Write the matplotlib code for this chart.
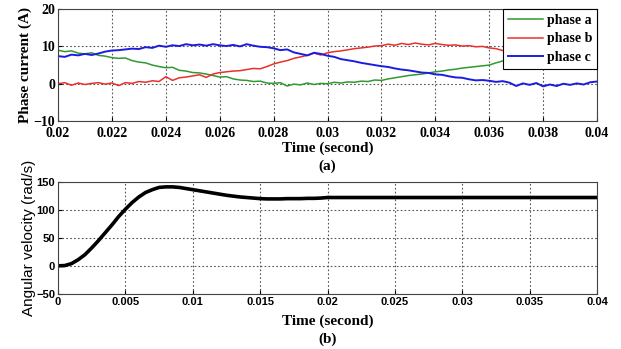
import numpy as np
import matplotlib
matplotlib.use("Agg")
import matplotlib.pyplot as plt

# ---- data ----
# phase currents, sampled every 0.25 ms from 0.02 s to 0.04 s
phase_a = [9.0, 8.6, 8.8, 8.2, 8.0, 8.3, 7.6, 7.4, 7.0, 6.8,
           6.9, 6.2, 5.8, 5.6, 5.0, 4.6, 4.3, 4.4, 3.6, 3.4,
           3.0, 2.9, 2.6, 2.2, 1.8, 1.9, 1.3, 1.0, 0.9, 0.6,
           0.7, 0.2, 0.1, 0.3, -0.6, -0.1, -0.3, 0.2, -0.2, 0.1,
           0.0, 0.4, 0.2, 0.5, 0.4, 0.7, 0.6, 1.0, 0.9, 1.3,
           1.6, 1.9, 2.2, 2.4, 2.6, 2.9, 3.2, 3.4, 3.7, 3.9,
           4.2, 4.4, 4.6, 4.8, 5.0, 5.6, 6.1, 6.7, 7.0, 7.3,
           7.6, 7.9, 8.1, 8.4, 8.6, 8.8, 9.0, 9.2, 9.4, 9.5, 9.6]
phase_b = [0.0, 0.3, -0.4, 0.2, -0.2, 0.1, 0.3, -0.1, 0.2, -0.5,
           0.3, 0.1, 0.6, 0.4, 0.8, 0.6, 1.9, 0.9, 1.6, 1.8,
           2.1, 2.4, 1.7, 2.6, 3.0, 3.2, 3.4, 3.5, 3.8, 4.1,
           4.0, 4.6, 5.3, 5.8, 6.2, 6.8, 7.2, 7.6, 8.2, 7.7,
           8.3, 8.6, 8.8, 9.1, 9.4, 9.6, 9.8, 10.1, 10.2, 10.6,
           10.3, 10.8, 10.5, 10.9, 10.6, 10.4, 10.8, 10.5, 10.3, 10.4,
           10.1, 10.2, 9.9, 10.0, 9.6, 9.4, 8.9, 8.8, 8.6, 8.5,
           8.4, 8.2, 8.1, 8.0, 7.8, 7.7, 7.5, 7.4, 7.2, 7.0, 6.8]
phase_c = [7.4, 7.2, 7.8, 7.6, 8.0, 7.7, 8.1, 8.6, 8.9, 9.0,
           9.2, 9.4, 9.3, 9.8, 9.6, 10.2, 9.9, 10.3, 10.1, 10.6,
           10.3, 10.5, 10.2, 10.6, 10.3, 10.1, 10.4, 10.0, 10.6, 10.2,
           9.9, 9.8, 9.5, 9.0, 9.2, 8.4, 8.0, 7.6, 8.3, 8.0,
           7.5, 7.2, 6.6, 6.3, 6.0, 5.6, 5.3, 5.0, 4.7, 4.5,
           4.1, 3.8, 3.6, 3.3, 3.0, 2.9, 2.5, 2.4, 2.0, 1.7,
           1.6, 1.2, 0.9, 1.0, 0.8, 0.5, 0.7, 0.3, -0.6, 0.1,
           -0.3, 0.2, -0.7, -0.2, -0.6, 0.0, -0.3, 0.1, -0.2, 0.4, 0.6]
t_a = np.linspace(0.02, 0.04, len(phase_a))

# angular velocity
t_w = [0, 0.0005, 0.001, 0.0015, 0.002, 0.0025, 0.003, 0.0035, 0.004, 0.0045,
       0.005, 0.0055, 0.006, 0.0065, 0.007, 0.0075, 0.008, 0.0085, 0.009, 0.0095,
       0.01, 0.0105, 0.011, 0.0115, 0.012, 0.0125, 0.013, 0.0135, 0.014, 0.0145,
       0.015, 0.0155, 0.016, 0.0165, 0.017, 0.0175, 0.018, 0.0185, 0.019, 0.0195,
       0.02, 0.025, 0.03, 0.035, 0.04]
omega = [0, 0.5, 4, 11, 20, 32, 45, 59, 73, 88,
         101, 113, 123, 131, 136, 140, 141, 141, 140, 138,
         136, 134, 132, 130, 128, 126, 124.5, 123, 122, 121,
         120, 119.5, 119.5, 119.5, 120, 120, 120, 120.5, 120.5, 121,
         122, 122, 122, 122, 122]

serif = "Liberation Serif"
sans = "Liberation Sans"

fig = plt.figure(figsize=(6.21, 3.49), dpi=100)
ax1 = fig.add_axes([0.0934, 0.653, 0.868, 0.321])
ax2 = fig.add_axes([0.0934, 0.158, 0.868, 0.321])

# (a) phase currents
ax1.plot(t_a, phase_a, color="#2f9a2f", lw=1.1, label="phase a")
ax1.plot(t_a, phase_b, color="#e8302c", lw=1.1, label="phase b")
ax1.plot(t_a, phase_c, color="#1c1ce0", lw=1.4, label="phase c")
ax1.set_xlim(0.02, 0.04)
ax1.set_ylim(-10, 20)
ax1.set_xticks(np.arange(0.02, 0.0401, 0.002))
ax1.set_xticklabels(["0.02", "0.022", "0.024", "0.026", "0.028", "0.03",
                     "0.032", "0.034", "0.036", "0.038", "0.04"])
ax1.set_yticks([-10, 0, 10, 20])
ax1.set_ylabel("Phase current (A)", family=serif, fontweight="bold", fontsize=11, labelpad=1)
for lab in ax1.get_xticklabels() + ax1.get_yticklabels():
    lab.set_family(serif)
    lab.set_fontweight("bold")
    lab.set_fontsize(10)
ax1.tick_params(axis="x", pad=4)
leg = ax1.legend(loc="upper right", borderaxespad=0, fancybox=False, framealpha=1,
                 edgecolor="black", handlelength=2.5, handletextpad=0.3,
                 borderpad=0.35, labelspacing=0.4,
                 prop={"family": serif, "weight": "bold", "size": 10})
leg.get_frame().set_linewidth(0.8)

# (b) angular velocity
ax2.plot(t_w, omega, color="black", lw=2.6)
ax2.set_xlim(0, 0.04)
ax2.set_ylim(-50, 150)
ax2.set_xticks(np.arange(0, 0.0401, 0.005))
ax2.set_xticklabels(["0", "0.005", "0.01", "0.015", "0.02", "0.025",
                     "0.03", "0.035", "0.04"])
ax2.set_yticks([-50, 0, 50, 100, 150])
ax2.set_ylabel("Angular velocity (rad/s)", family=sans, fontsize=11, labelpad=0)
for lab in ax2.get_xticklabels() + ax2.get_yticklabels():
    lab.set_family(sans)
    lab.set_fontweight("bold")
    lab.set_fontsize(8)

for ax in (ax1, ax2):
    ax.grid(True, linestyle=(0, (1.5, 2)), color="#555555", lw=0.8)
    ax.tick_params(direction="in", length=3)
    for s in ax.spines.values():
        s.set_color("#444444")
        s.set_linewidth(0.8)
ax2.tick_params(pad=2)
ax1.tick_params(axis="y", pad=2)

fig.text(0.527, 1 - 148 / 349, "Time (second)", family=serif, fontweight="bold",
         fontsize=11, ha="center", va="center")
fig.text(0.527, 1 - 166 / 349, "(a)", family=serif, fontweight="bold",
         fontsize=11, ha="center", va="center")
fig.text(0.527, 1 - 321 / 349, "Time (second)", family=serif, fontweight="bold",
         fontsize=11, ha="center", va="center")
fig.text(0.527, 1 - 339 / 349, "(b)", family=serif, fontweight="bold",
         fontsize=11, ha="center", va="center")

fig.savefig("out.png", dpi=100)
